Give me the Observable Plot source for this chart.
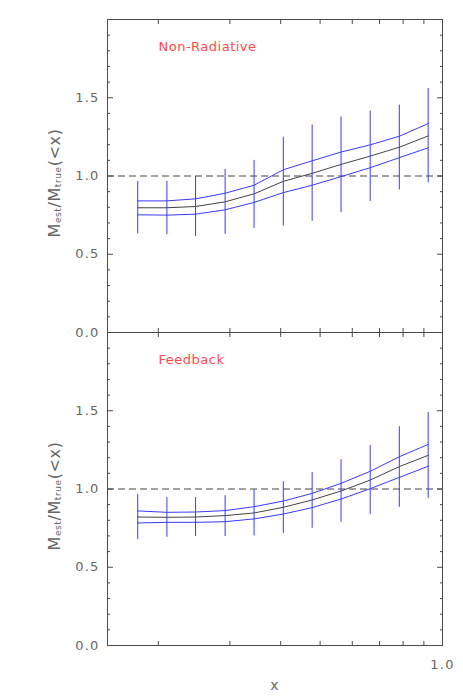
<!DOCTYPE html>
<html>
<head>
<meta charset="utf-8">
<script src="https://cdn.jsdelivr.net/npm/d3@7"></script>
<script src="https://cdn.jsdelivr.net/npm/@observablehq/plot@0.6"></script>
<style>
  html, body { margin: 0; padding: 0; background: #fff; }
  #chart svg { display: block; overflow: visible; }
</style>
</head>
<body>
<div id="chart"></div>
<script>
// ---- data ----
const xValues = [0.178, 0.210, 0.247, 0.292, 0.344, 0.406, 0.478, 0.563, 0.664, 0.783, 0.922];

// Non-Radiative panel
const nrMedian = [0.797, 0.797, 0.805, 0.835, 0.886, 0.966, 1.017, 1.074, 1.127, 1.184, 1.256];
const nrUpper  = [0.841, 0.841, 0.854, 0.890, 0.941, 1.040, 1.097, 1.153, 1.199, 1.254, 1.335];
const nrLower  = [0.752, 0.750, 0.756, 0.784, 0.831, 0.894, 0.941, 0.996, 1.053, 1.117, 1.180];
const nrErrHi  = [0.966, 0.966, 0.996, 1.042, 1.100, 1.248, 1.326, 1.377, 1.415, 1.453, 1.559];
const nrErrLo  = [0.629, 0.625, 0.614, 0.627, 0.665, 0.680, 0.710, 0.767, 0.837, 0.911, 0.956];

// Feedback panel
const fbMedian = [0.821, 0.819, 0.821, 0.830, 0.847, 0.883, 0.930, 0.987, 1.057, 1.143, 1.215];
const fbUpper  = [0.860, 0.851, 0.853, 0.862, 0.887, 0.923, 0.972, 1.036, 1.113, 1.206, 1.285];
const fbLower  = [0.783, 0.787, 0.787, 0.791, 0.809, 0.840, 0.881, 0.936, 1.002, 1.074, 1.145];
const fbErrHi  = [0.966, 0.945, 0.945, 0.957, 0.994, 1.047, 1.106, 1.187, 1.277, 1.398, 1.489];
const fbErrLo  = [0.677, 0.691, 0.696, 0.696, 0.700, 0.715, 0.749, 0.787, 0.836, 0.883, 0.940];

const panelTitles = ["Non-Radiative", "Feedback"];
const xDomain = [0.15, 1.0];
const yDomain = [0, 2.0];
const yLabelTicks = [0, 0.5, 1.0, 1.5];
const yMajorTicks = [0, 0.5, 1.0, 1.5, 2.0];
const yMinorTicks = [0.1, 0.2, 0.3, 0.4, 0.6, 0.7, 0.8, 0.9, 1.1, 1.2, 1.3, 1.4, 1.6, 1.7, 1.8, 1.9];
const xMinorTicks = [0.2, 0.3, 0.4, 0.5, 0.6, 0.7, 0.8, 0.9];
const xMajorTicks = [1.0];
const xLabelTicks = [1.0];
const xTitle = "x";

// ---- styles ----
const BLUE = "#3a3aff";
const BLACK = "#444";
const AXIS = "#4a4a4a";
const LABEL = "#666";
const RED = "#ff4a4a";

function table(median, upper, lower, hi, lo) {
  return xValues.map((x, i) => ({x, median: median[i], upper: upper[i], lower: lower[i], hi: hi[i], lo: lo[i]}));
}

function panel(rows, title, isBottom) {
  const marks = [
    Plot.ruleY([1.0], {stroke: BLACK, strokeWidth: 1, strokeDasharray: "7,4"}),
    Plot.line(rows, {x: "x", y: "upper", stroke: BLUE, strokeWidth: 1}),
    Plot.line(rows, {x: "x", y: "lower", stroke: BLUE, strokeWidth: 1}),
    Plot.line(rows, {x: "x", y: "median", stroke: BLACK, strokeWidth: 1}),
    Plot.ruleX(rows, {x: "x", y1: "lo", y2: "hi", stroke: BLUE, strokeWidth: 1}),
    Plot.frame({stroke: AXIS, strokeWidth: 1}),
    // y tick labels
    Plot.axisY(yLabelTicks, {anchor: "left", tickSize: 0, tickPadding: 8, tickFormat: d3.format(".1f"), label: null, fill: LABEL, fontSize: 13}),
    // inward y ticks, left and right
    Plot.axisY(yMajorTicks, {anchor: "left", tickSize: 6, dx: 6, text: null, label: null, stroke: AXIS}),
    Plot.axisY(yMinorTicks, {anchor: "left", tickSize: 3, dx: 3, text: null, label: null, stroke: AXIS}),
    Plot.axisY(yMajorTicks, {anchor: "right", tickSize: 6, dx: -6, text: null, label: null, stroke: AXIS}),
    Plot.axisY(yMinorTicks, {anchor: "right", tickSize: 3, dx: -3, text: null, label: null, stroke: AXIS}),
    // inward x ticks, top and bottom
    Plot.axisX(xMinorTicks, {anchor: "bottom", tickSize: 4, dy: -4, text: null, label: null, stroke: AXIS}),
    Plot.axisX(xMinorTicks, {anchor: "top", tickSize: 4, dy: 4, text: null, label: null, stroke: AXIS}),
    Plot.axisX(xMajorTicks, {anchor: "bottom", tickSize: 7, dy: -7, text: null, label: null, stroke: AXIS}),
    Plot.text([title], {frameAnchor: "top-left", textAnchor: "start", lineAnchor: "middle", dx: 51, dy: 27, fill: RED, fontSize: 13, style: ""})
  ];
  if (isBottom) {
    marks.push(Plot.axisX(xLabelTicks, {anchor: "bottom", tickSize: 0, tickPadding: 14, tickFormat: d3.format(".1f"), label: null, fill: LABEL, fontSize: 13}));
    marks.push(Plot.text([xTitle], {frameAnchor: "bottom", lineAnchor: "middle", dy: 40, fill: LABEL, fontSize: 14}));
  }
  const svg = Plot.plot({
    width: 463,
    height: isBottom ? 364 : 332,
    marginLeft: 107,
    marginRight: 21,
    marginTop: isBottom ? 0 : 19,
    marginBottom: isBottom ? 51 : 0,
    x: {type: "log", domain: xDomain},
    y: {domain: yDomain},
    style: {fontFamily: "DejaVu Sans, sans-serif", fontSize: "13px", overflow: "visible", letterSpacing: "1.2px"},
    marks
  });
  // panel title: slightly tighter spacing than the tick labels
  d3.select(svg).selectAll("text").filter(function() { return this.textContent === title; })
    .style("letter-spacing", "0.5px");
  // y-axis title with subscripts
  const centerY = isBottom ? 164 : 164 + 19;
  const t = d3.select(svg).append("text")
    .attr("transform", `translate(60,${centerY}) rotate(-90)`)
    .attr("text-anchor", "middle")
    .attr("fill", LABEL)
    .style("font-family", "DejaVu Sans, sans-serif")
    .style("font-size", "16px")
    .style("letter-spacing", "0.6px");
  t.append("tspan").text("M");
  t.append("tspan").attr("font-size", "9px").attr("dy", "1").text("est");
  t.append("tspan").attr("dy", "-1").text("/M");
  t.append("tspan").attr("font-size", "9px").attr("dy", "1").text("true");
  t.append("tspan").attr("dy", "-1").text("(<x)");
  return svg;
}

const chart = document.getElementById("chart");
chart.appendChild(panel(table(nrMedian, nrUpper, nrLower, nrErrHi, nrErrLo), panelTitles[0], false));
chart.appendChild(panel(table(fbMedian, fbUpper, fbLower, fbErrHi, fbErrLo), panelTitles[1], true));
</script>
</body>
</html>
